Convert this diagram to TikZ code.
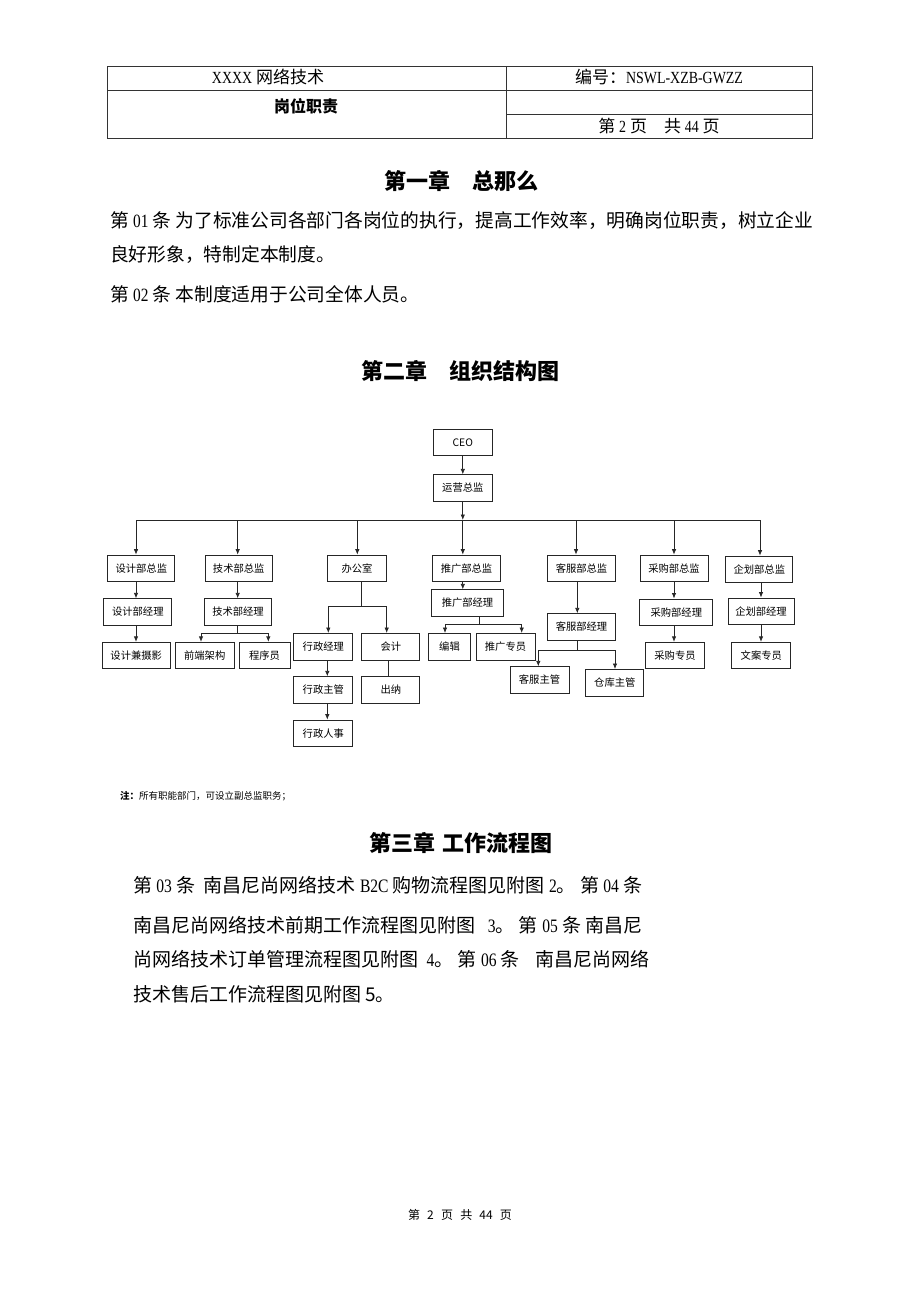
\documentclass[tikz,border=0pt]{standalone}
\usepackage{fontspec}
\setmainfont{Noto Sans CJK SC}
\newfontfamily\lat[FakeStretch=0.82]{Liberation Serif}
\usetikzlibrary{arrows.meta}

\begin{document}
\begin{tikzpicture}[x=1pt, y=-1pt, >={Latex[length=5.5pt,width=4.5pt]},
	box/.style={draw=black!85, line width=0.8pt, minimum width=#1, minimum height=26.5pt, inner sep=0pt, font=\fontsize{10.3}{12}\selectfont},
	arr/.style={->, draw=black!85, line width=0.8pt},
	lnk/.style={draw=black!85, line width=0.8pt},
	grid/.style={draw=black!80, line width=1pt},
	body/.style={anchor=west, inner sep=0pt, font=\fontsize{18.75}{23}\selectfont},
	head/.style={inner sep=0pt, font=\fontsize{22}{26}\selectfont\bfseries}]
	\useasboundingbox (0,0) rectangle (920,1301);

	% header table
	\draw[grid] (107,66) rectangle (812,138.5);
	\draw[grid] (107,90) -- (812,90);
	\draw[grid] (506,66) -- (506,138.5);
	\draw[grid] (506,114) -- (812,114);
	\node[inner sep=0pt, font=\fontsize{17}{20}\selectfont] (firm) at (268,77) {{\lat XXXX} 网络技术};
	\node[inner sep=0pt, font=\fontsize{17}{20}\selectfont] (code) at (659,77) {编号：{\lat NSWL-XZB-GWZZ}};
	\node[inner sep=0pt, font=\fontsize{16}{19}\selectfont\bfseries] (duty) at (306,106) {岗位职责};
	\node[inner sep=0pt, font=\fontsize{17}{20}\selectfont] (pageno) at (659,126) {第 {\lat 2} 页　共 {\lat 44} 页};

	% chapter 1
	\node[head] (ch1) at (461,181) {第一章　总那么};
	\node[body] (art1a) at (110,221) {第 {\lat 01} 条 为了标准公司各部门各岗位的执行，提高工作效率，明确岗位职责，树立企业};
	\node[body] (art1b) at (110,255) {良好形象，特制定本制度。};
	\node[body] (art2) at (110,294) {第 {\lat 02} 条 本制度适用于公司全体人员。};

	% chapter 2
	\node[head] (ch2) at (460,371) {第二章　组织结构图};

	\node[box=59pt] (ceo) at (462.8,442.5) {CEO};
	\node[box=59pt] (yyzj) at (462.8,488) {运营总监};

	\node[box=67pt] (sjzj) at (141.3,568.3) {设计部总监};
	\node[box=67pt] (jszj) at (238.7,568.3) {技术部总监};
	\node[box=59pt] (bgs) at (357,568.3) {办公室};
	\node[box=68pt] (tgzj) at (466.5,568.3) {推广部总监};
	\node[box=68pt] (kfzj) at (581.5,568.3) {客服部总监};
	\node[box=68pt] (cgzj) at (674,568.3) {采购部总监};
	\node[box=67pt] (qhzj) at (759.3,569.3) {企划部总监};

	\node[box=68pt] (sjjl) at (137.8,612) {设计部经理};
	\node[box=67pt] (jsjl) at (238,612) {技术部经理};
	\node[box=72pt] (tgjl) at (467.5,603) {推广部经理};
	\node[box=68pt] (kfjl) at (581.5,627) {客服部经理};
	\node[box=73pt] (cgjl) at (676.3,612.2) {采购部经理};
	\node[box=66pt] (qhjl) at (761,611.2) {企划部经理};

	\node[box=68pt] (sjsy) at (136.2,655.5) {设计兼摄影};
	\node[box=59pt] (qdjg) at (204.7,655.5) {前端架构};
	\node[box=51pt] (cxy) at (264.5,655.5) {程序员};
	\node[box=59pt] (xzjl) at (323.3,646.7) {行政经理};
	\node[box=58pt] (kj) at (390.8,646.7) {会计};
	\node[box=42pt] (bj) at (449.5,646.7) {编辑};
	\node[box=59pt] (tgzy) at (505.5,646.7) {推广专员};
	\node[box=59pt] (cgzy) at (675,655.5) {采购专员};
	\node[box=59pt] (wazy) at (761.3,655.5) {文案专员};

	\node[box=59pt] (xzzg) at (323.3,690) {行政主管};
	\node[box=58pt] (cn) at (390.8,690) {出纳};
	\node[box=59pt] (kfzg) at (539.5,680) {客服主管};
	\node[box=58pt] (ckzg) at (614.8,682.7) {仓库主管};
	\node[box=59pt] (xzrs) at (323.3,733.3) {行政人事};

	% bus
	\coordinate (c1) at (136,520);
	\coordinate (c2) at (237.7,520);
	\coordinate (c3) at (357.3,520);
	\coordinate (c4) at (462.8,520);
	\coordinate (c5) at (576,520);
	\coordinate (c6) at (674,520);
	\coordinate (c7) at (760,520);
	\draw[arr] (ceo) -- (yyzj);
	\draw[arr] (yyzj) -- (c4);
	\draw[lnk] (c1) -- (c7);
	\foreach \c/\n in {c1/sjzj, c2/jszj, c3/bgs, c4/tgzj, c5/kfzj, c6/cgzj, c7/qhzj}
	{\draw[arr] (\c) -- (\c |- \n.north);}

	% branches
	\coordinate (jsL) at (201,633.3);
	\coordinate (jsR) at (268.3,633.3);
	\coordinate (bgL) at (328.3,606.7);
	\coordinate (bgR) at (386.7,606.7);
	\coordinate (tgL) at (445,624);
	\coordinate (tgR) at (521.7,624);
	\coordinate (kfL) at (538.3,650);
	\coordinate (kfR) at (615,650);

	\draw[arr] (sjzj.south -| c1) -- (sjjl.north -| c1);
	\draw[arr] (sjjl.south -| c1) -- (sjsy.north -| c1);

	\draw[arr] (jszj.south -| c2) -- (jsjl.north -| c2);
	\draw[lnk] (jsjl.south -| c2) -- (jsL -| c2);
	\draw[lnk] (jsL) -- (jsR);
	\draw[arr] (jsL) -- (jsL |- qdjg.north);
	\draw[arr] (jsR) -- (jsR |- cxy.north);

	\draw[lnk] (bgs.south -| 361.7,0) -- (bgL -| 361.7,0);
	\draw[lnk] (bgL) -- (bgR);
	\draw[arr] (bgL) -- (bgL |- xzjl.north);
	\draw[arr] (bgR) -- (bgR |- kj.north);
	\draw[arr] (xzjl.south -| 327.3,0) -- (xzzg.north -| 327.3,0);
	\draw[arr] (xzzg.south -| 327.3,0) -- (xzrs.north -| 327.3,0);
	\draw[lnk] (kj.south -| 388.3,0) -- (cn.north -| 388.3,0);

	\draw[arr] (tgzj.south -| c4) -- (tgjl.north -| c4);
	\draw[lnk] (tgjl.south -| 479.3,0) -- (tgL -| 479.3,0);
	\draw[lnk] (tgL) -- (tgR);
	\draw[arr] (tgL) -- (tgL |- bj.north);
	\draw[arr] (tgR) -- (tgR |- tgzy.north);

	\draw[arr] (kfzj.south -| 577.3,0) -- (kfjl.north -| 577.3,0);
	\draw[lnk] (kfjl.south -| 577.3,0) -- (kfL -| 577.3,0);
	\draw[lnk] (kfL) -- (kfR);
	\draw[arr] (kfL) -- (kfL |- kfzg.north);
	\draw[arr] (kfR) -- (kfR |- ckzg.north);

	\draw[arr] (cgzj.south -| c6) -- (cgjl.north -| c6);
	\draw[arr] (cgjl.south -| c6) -- (cgzy.north -| c6);

	\draw[arr] (qhzj.south -| 761,0) -- (qhjl.north -| 761,0);
	\draw[arr] (qhjl.south -| 761,0) -- (wazy.north -| 761,0);

	\node[anchor=west, inner sep=0pt, font=\fontsize{9.5}{11}\selectfont] (note) at (120,796) {\textbf{注：}所有职能部门，可设立副总监职务；};

	% chapter 3
	\node[head] (ch3) at (461,843) {第三章\hspace{0.35em}工作流程图};
	\node[body, font=\fontsize{19}{23}\selectfont] (art3) at (133,885) {第 {\lat 03} 条\ \ 南昌尼尚网络技术 {\lat B2C} 购物流程图见附图 {\lat 2}。 第 {\lat 04} 条};
	\node[body, font=\fontsize{19}{23}\selectfont] (art4) at (133,925) {南昌尼尚网络技术前期工作流程图见附图\ \ \ {\lat 3}。 第 {\lat 05} 条 南昌尼};
	\node[body, font=\fontsize{19}{23}\selectfont] (art5) at (133,959) {尚网络技术订单管理流程图见附图\ \ {\lat 4}。 第 {\lat 06} 条\hspace{0.8em}南昌尼尚网络};
	\node[body, font=\fontsize{19}{23}\selectfont] (art6) at (133,994) {技术售后工作流程图见附图 5。};

	% footer
	\node[inner sep=0pt, font=\fontsize{12}{14}\selectfont] (foot) at (460,1215) {第\hspace{0.6em}2\hspace{0.6em}页\hspace{0.6em}共\hspace{0.6em}44\hspace{0.6em}页};
\end{tikzpicture}
\end{document}
